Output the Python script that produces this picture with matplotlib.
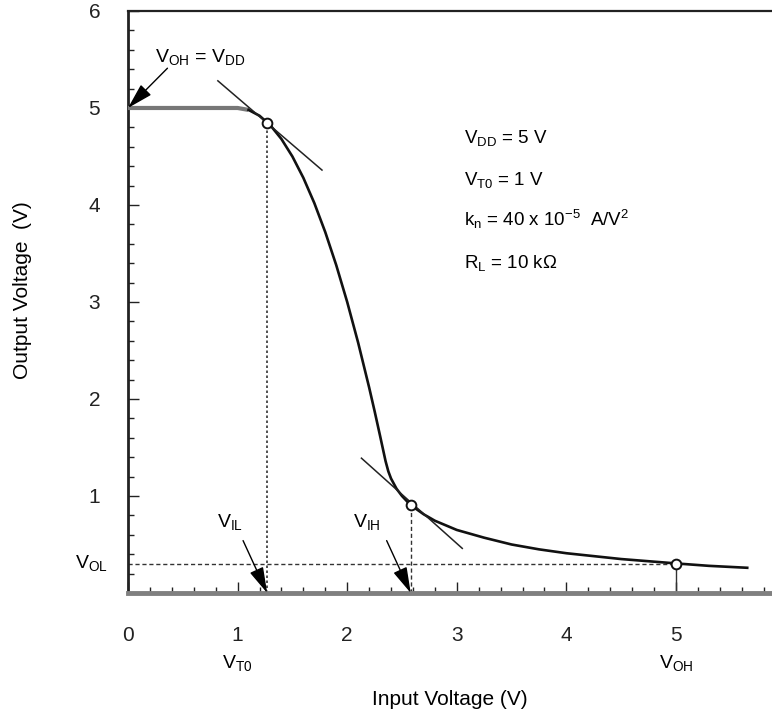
import matplotlib.pyplot as plt
import numpy as np

plt.rcParams['font.family'] = ['Liberation Sans', 'DejaVu Sans']
plt.rcParams['mathtext.fontset'] = 'custom'
plt.rcParams['mathtext.rm'] = 'Liberation Sans'
plt.rcParams['mathtext.it'] = 'Liberation Sans:italic'

# transfer curve of the resistive-load inverter
vin = [0.0, 0.5, 1.0, 1.1, 1.2, 1.3, 1.4, 1.5, 1.6, 1.7, 1.8, 1.9, 2.0, 2.1, 2.2,
       2.25, 2.3, 2.325, 2.35, 2.375, 2.4, 2.45, 2.5, 2.55, 2.6, 2.7, 2.8, 3.0,
       3.25, 3.5, 3.75, 4.0, 4.5, 5.0, 5.3, 5.65]
vout = [5.0, 5.0, 5.0, 4.98, 4.92, 4.82, 4.68, 4.50, 4.28, 4.02, 3.72, 3.38, 3.00,
        2.58, 2.12, 1.875, 1.62, 1.49, 1.36, 1.255, 1.18, 1.075, 1.0, 0.94, 0.89,
        0.81, 0.745, 0.65, 0.57, 0.50, 0.45, 0.41, 0.35, 0.305, 0.28, 0.26]

# critical points
v_il, v_il_out = 1.27, 4.85
v_ih, v_ih_out = 2.58, 0.91
v_oh, v_ol = 5.0, 0.30

# slope -1 tangents at VIL and VIH
tan_il_x = [0.82, 1.77]
tan_il_y = [5.28, 4.36]
tan_ih_x = [2.13, 3.05]
tan_ih_y = [1.39, 0.46]

params = [r'V$_\mathrm{DD}$ = 5 V',
          r'V$_\mathrm{T0}$ = 1 V',
          r'k$_\mathrm{n}$ = 40 x 10$^\mathrm{-5}$  A/V$^\mathrm{2}$',
          r'R$_\mathrm{L}$ = 10 kΩ']

fig = plt.figure(figsize=(7.72, 7.13), dpi=100)
ax = fig.add_axes([0.1658, 0.1683, 0.8342, 0.8163])

vin = np.array(vin)
vout = np.array(vout)
flat = vin <= 1.1
ax.plot(vin[flat], vout[flat], color='#777777', lw=3, solid_capstyle='butt', zorder=3)
ax.plot(vin[vin >= 1.1], vout[vin >= 1.1], color='#111111', lw=1.9, zorder=3)

ax.plot(tan_il_x, tan_il_y, color='#222222', lw=1.1, zorder=3)
ax.plot(tan_ih_x, tan_ih_y, color='#222222', lw=1.1, zorder=3)

ax.plot([v_il, v_il], [0, v_il_out], color='#333333', lw=1.2, ls=(0, (1.5, 1.5)), zorder=2)
ax.plot([v_ih, v_ih], [0, v_ih_out], color='#333333', lw=1.0, ls=(0, (3, 2)), zorder=2)
ax.plot([0, v_oh], [v_ol, v_ol], color='#333333', lw=1.0, ls=(0, (3, 2)), zorder=2)
ax.plot([v_oh, v_oh], [0, v_ol], color='#333333', lw=1.0, zorder=2)

ax.plot([v_il, v_ih, v_oh], [v_il_out, v_ih_out, v_ol], 'o', ms=7, mfc='white',
        mec='#111111', mew=1.4, zorder=5)

arrow = dict(arrowstyle='-|>,head_length=1.0,head_width=0.28', color='black',
             lw=1.0, mutation_scale=16, shrinkA=0, shrinkB=0)
ax.annotate('', xy=(0.0, 5.0), xytext=(0.36, 5.41), arrowprops=arrow,
            annotation_clip=False, zorder=6)
ax.annotate('', xy=(v_il, 0.0), xytext=(1.05, 0.54), arrowprops=arrow,
            annotation_clip=False, zorder=6)
ax.annotate('', xy=(v_ih, 0.0), xytext=(2.36, 0.54), arrowprops=arrow,
            annotation_clip=False, zorder=6)

ax.text(0.25, 5.47, r'V$_\mathrm{OH}$ = V$_\mathrm{DD}$', fontsize=14, va='baseline')
ax.text(0.81, 0.68, r'V$_\mathrm{IL}$', fontsize=14, va='baseline')
ax.text(2.05, 0.68, r'V$_\mathrm{IH}$', fontsize=14, va='baseline')
ax.text(-0.18, 0.26, r'V$_\mathrm{OL}$', fontsize=14, va='baseline', ha='right',
        clip_on=False)
ax.text(1.0, -0.77, r'V$_\mathrm{T0}$', fontsize=14, va='baseline', ha='center',
        clip_on=False)
ax.text(5.0, -0.77, r'V$_\mathrm{OH}$', fontsize=14, va='baseline', ha='center',
        clip_on=False)

for i, s in enumerate(params):
    ax.text(3.07, 4.64 - 0.43 * i, s, fontsize=13.5, va='baseline')

ax.set_xlim(0, 5.876)
ax.set_ylim(0, 6)
ax.set_xticks(np.arange(0, 6))
ax.set_xticks(np.arange(0, 5.9, 0.2), minor=True)
ax.set_yticks(np.arange(0, 7))
ax.set_yticklabels(['', '1', '2', '3', '4', '5', '6'])
ax.set_yticks(np.arange(0, 6.01, 0.2), minor=True)
ax.tick_params(which='both', direction='in', labelsize=15, width=1, colors='#222222')
ax.tick_params(which='major', length=8)
ax.tick_params(which='minor', length=4)
ax.tick_params(axis='x', pad=24)
ax.tick_params(axis='y', pad=20)

ax.spines['right'].set_visible(False)
ax.spines['left'].set_linewidth(2)
ax.spines['left'].set_color('#222222')
ax.spines['top'].set_linewidth(1.6)
ax.spines['top'].set_color('#222222')
ax.spines['bottom'].set_linewidth(3.5)
ax.spines['bottom'].set_color('#808080')

ax.set_xlabel('Input Voltage (V)', fontsize=15)
ax.set_ylabel('Output Voltage  (V)', fontsize=15)
ax.xaxis.set_label_coords(0.5, -0.167)
ax.yaxis.set_label_coords(-0.149, 0.52)

fig.savefig('out.png', dpi=100)
